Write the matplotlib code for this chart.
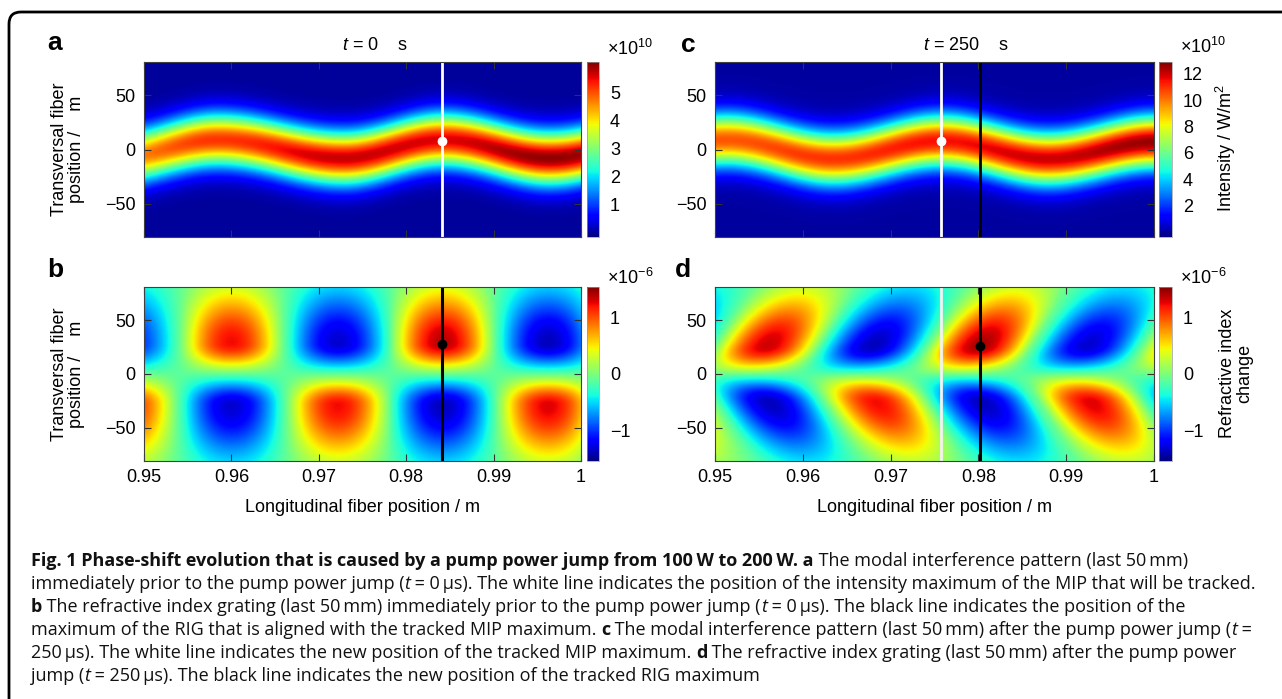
import numpy as np
import matplotlib
matplotlib.use('Agg')
import matplotlib.pyplot as plt
from matplotlib.patches import PathPatch
from matplotlib.path import Path
from matplotlib.transforms import IdentityTransform

plt.rcParams['font.family'] = ['Liberation Sans', 'DejaVu Sans']
plt.rcParams['mathtext.fontset'] = 'custom'
plt.rcParams['mathtext.rm'] = 'Liberation Sans'
plt.rcParams['mathtext.it'] = 'Liberation Sans:italic'

# axis values
x_ticks = [0.95, 0.96, 0.97, 0.98, 0.99, 1.0]
x_tick_labels = ['0.95', '0.96', '0.97', '0.98', '0.99', '1']
y_ticks = [-50, 0, 50]
y_lim = 81

# MIP band: crest positions (m), band offset (um), peak (1e10 W/m^2)
mip_a_crest_x = [0.9462, 0.9585, 0.9728, 0.9843, 0.9965, 1.0088]
mip_a_crest_y = [-8.5, 9, -8, 9, -8, 8]
mip_a_peak = [4.6, 5.2, 5.7, 5.6, 6.0, 5.6]
mip_c_crest_x = [0.9390, 0.9512, 0.9635, 0.9758, 0.9880, 1.0003]
mip_c_crest_y = [-8, 9, -8.5, 8, -8.5, 7]
mip_c_peak = [10.0, 10.5, 11.0, 11.5, 12.0, 12.6]
mip_width = 17

# RIG lobes: position (m), transverse position (um), amplitude (1e-6)
rig_b_x = [0.9478, 0.9600, 0.9722, 0.9842, 0.9963, 1.0085,
           0.9478, 0.9600, 0.9722, 0.9842, 0.9963, 1.0085]
rig_b_y = [29] * 6 + [-29] * 6
rig_b_amp = [-1.0, 1.35, -1.2, 1.5, -1.25, 1.3,
             1.3, -1.2, 1.35, -1.25, 1.4, -1.2]
rig_d_x = [0.9437, 0.9559, 0.9680, 0.9802, 0.9925, 1.0047,
           0.9440, 0.9562, 0.9684, 0.9805, 0.9929, 1.0050]
rig_d_y = [26] * 6 + [-26] * 6
rig_d_amp = [-1.1, 1.45, -1.25, 1.55, -1.2, 1.3,
             1.1, -1.25, 1.35, -1.25, 1.4, -1.1]
rig_period = 0.0243
rig_tilt_b = 0.0
rig_tilt_d = 0.75e-4

# tracked maxima
track_a = (0.9841, 8)
track_b = (0.9841, 28)
track_c = (0.9757, 8)
track_d = (0.9802, 26)

W, H = 1282, 699
fig = plt.figure(figsize=(W / 100, H / 100), dpi=100)
renderer = fig.canvas.get_renderer()


def box(l, t, r, b):
    return [l / W, 1 - b / H, (r - l) / W, (b - t) / H]


def fx(px):
    return px / W


def fy(py):
    return 1 - py / H


xs = np.linspace(0.95, 1.0, 500)
ys = np.linspace(-y_lim, y_lim, 260)
X, Y = np.meshgrid(xs, ys)


def ease(xq, xk, vk):
    xk = np.asarray(xk)
    vk = np.asarray(vk)
    i = np.clip(np.searchsorted(xk, xq) - 1, 0, len(xk) - 2)
    t = np.clip((xq - xk[i]) / (xk[i + 1] - xk[i]), 0, 1)
    return vk[i] + (vk[i + 1] - vk[i]) * (1 - np.cos(np.pi * t)) / 2


def mip(cx, cy, pk):
    yc = ease(X, cx, cy)
    amp = ease(X, cx, pk)
    return amp * np.exp(-(Y - yc) ** 2 / (2 * mip_width ** 2))


def rig(lx, ly, la, tilt):
    Z = np.full(X.shape, -0.12)
    for xi, yi, ai in zip(lx, ly, la):
        dx = X - xi - tilt * (np.abs(Y) - abs(yi))
        px = np.where(np.abs(dx) < rig_period / 4, np.cos(2 * np.pi * dx / rig_period), 0)
        outer = (np.sign(Y) == np.sign(yi)) & (np.abs(Y) > abs(yi))
        s = np.where(outer, 35.0, 16.0)
        Z += ai * px * np.exp(-(Y - yi) ** 2 / (2 * s ** 2))
    return Z


def heat(ax, Z, vmin, vmax, bottom):
    im = ax.imshow(Z, extent=[0.95, 1.0, -y_lim, y_lim], origin='lower', aspect='auto',
                   cmap='jet', vmin=vmin, vmax=vmax, interpolation='bilinear')
    ax.set_xlim(0.95, 1.0)
    ax.set_ylim(-y_lim, y_lim)
    ax.set_xticks(x_ticks)
    ax.set_yticks(y_ticks)
    if bottom:
        ax.set_xticklabels(x_tick_labels)
    else:
        ax.set_xticklabels([])
    ax.tick_params(direction='in', top=True, right=True, length=5, width=0.8,
                   color='0.2', labelsize=13, pad=6)
    for sp in ax.spines.values():
        sp.set_color('0.25')
        sp.set_linewidth(0.8)
    return im


def cbar(im, rect, ticks):
    cax = fig.add_axes(rect)
    cb = fig.colorbar(im, cax=cax, ticks=ticks)
    cb.outline.set_linewidth(0.5)
    cb.outline.set_edgecolor('0.6')
    cax.tick_params(length=0, labelsize=13, pad=8)
    return cb


# border of the figure panel: left edge, rounded top-left corner, top edge (pixels, origin bottom-left)
r = 12
top = H - 12
border = Path([(9, -20), (9, top - r), (9, top), (9 + r, top), (W + 20, top)],
              [Path.MOVETO, Path.LINETO, Path.CURVE3, Path.CURVE3, Path.LINETO])
fig.patches.append(PathPatch(border, transform=IdentityTransform(), fill=False,
                             edgecolor='black', linewidth=2.0))

ax_a = fig.add_axes(box(144, 62, 581, 237))
im_a = heat(ax_a, mip(mip_a_crest_x, mip_a_crest_y, mip_a_peak), -0.15, 6.1, False)
ax_a.axvline(track_a[0], color='white', lw=2)
ax_a.plot(*track_a, 'o', color='white', ms=6)
cbar(im_a, box(587, 62, 599, 237), [1, 2, 3, 4, 5])

ax_b = fig.add_axes(box(144, 287, 581, 461))
im_b = heat(ax_b, rig(rig_b_x, rig_b_y, rig_b_amp, rig_tilt_b), -1.54, 1.54, True)
ax_b.axvline(track_b[0], color='black', lw=2.2)
ax_b.plot(*track_b, 'o', color='black', ms=6)
cbar(im_b, box(587, 287, 599, 461), [-1, 0, 1])

ax_c = fig.add_axes(box(715, 62, 1154, 237))
im_c = heat(ax_c, mip(mip_c_crest_x, mip_c_crest_y, mip_c_peak), -0.4, 12.9, False)
ax_c.axvline(track_c[0], color='white', lw=2)
ax_c.axvline(track_d[0], color='black', lw=2)
ax_c.plot(*track_c, 'o', color='white', ms=6)
cbar(im_c, box(1159, 62, 1172, 237), [2, 4, 6, 8, 10, 12])

ax_d = fig.add_axes(box(715, 287, 1154, 461))
im_d = heat(ax_d, rig(rig_d_x, rig_d_y, rig_d_amp, rig_tilt_d), -1.54, 1.54, True)
ax_d.axvline(track_c[0], color='#f2f2f2', lw=2)
ax_d.axvline(track_d[0], color='black', lw=2.2)
ax_d.plot(*track_d, 'o', color='black', ms=6)
cbar(im_d, box(1159, 287, 1172, 461), [-1, 0, 1])

# panel letters, titles, labels
for letter, px, py in [('a', 55, 43), ('b', 55, 270), ('c', 688, 45), ('d', 683, 270)]:
    fig.text(fx(px), fy(py), letter, fontsize=19, fontweight='bold', ha='center', va='center')

fig.text(fx(342), fy(46), '$t$ = 0    s', fontsize=13, ha='left', va='center')
fig.text(fx(923), fy(46), '$t$ = 250    s', fontsize=13, ha='left', va='center')

for cy in (149.5, 374):
    fig.text(fx(68), fy(cy), 'Transversal fiber\nposition /    m', fontsize=13, rotation=90,
             ha='center', va='center', multialignment='center', linespacing=1.0)
for cx in (362.5, 934.5):
    fig.text(fx(cx), fy(507), 'Longitudinal fiber position / m', fontsize=13, ha='center', va='center')

fig.text(fx(607), fy(49), '×10$^{10}$', fontsize=13, ha='left', va='center')
fig.text(fx(1180), fy(47), '×10$^{10}$', fontsize=13, ha='left', va='center')
fig.text(fx(607), fy(278), '×10$^{-6}$', fontsize=13, ha='left', va='center')
fig.text(fx(1180), fy(278), '×10$^{-6}$', fontsize=13, ha='left', va='center')
fig.text(fx(1226), fy(148), 'Intensity / W/m$^2$', fontsize=13, rotation=90, ha='center', va='center')
fig.text(fx(1236), fy(373), 'Refractive index\nchange', fontsize=13, rotation=90,
         ha='center', va='center', multialignment='center', linespacing=1.0)

# caption
cap_font = 'Open Sans'
R, B, I = ('normal', 'normal'), ('bold', 'normal'), ('normal', 'italic')
ts = '\u2009'
caption = [
    [('Fig. 1 Phase-shift evolution that is caused by a pump power jump from 100' + ts + 'W to 200' + ts + 'W. a', B),
     (' The modal interference pattern (last 50' + ts + 'mm)', R)],
    [('immediately prior to the pump power jump (', R), ('t', I),
     (' = 0' + ts + 'µs). The white line indicates the position of the intensity maximum of the MIP that will be tracked.', R)],
    [('b', B), (' The refractive index grating (last 50' + ts + 'mm) immediately prior to the pump power jump (', R),
     ('t', I), (' = 0' + ts + 'µs). The black line indicates the position of the', R)],
    [('maximum of the RIG that is aligned with the tracked MIP maximum. ', R), ('c', B),
     (' The modal interference pattern (last 50' + ts + 'mm) after the pump power jump (', R), ('t', I), (' =', R)],
    [('250' + ts + 'µs). The white line indicates the new position of the tracked MIP maximum. ', R), ('d', B),
     (' The refractive index grating (last 50' + ts + 'mm) after the pump power', R)],
    [('jump (', R), ('t', I), (' = 250' + ts + 'µs). The black line indicates the new position of the tracked RIG maximum', R)],
]


def seg_width(txt, size, style):
    kw = dict(fontsize=size, fontweight=style[0], fontstyle=style[1], family=cap_font)
    t1 = fig.text(0, 0, '|' + txt + '|', **kw)
    t2 = fig.text(0, 0, '||', **kw)
    w = t1.get_window_extent(renderer).width - t2.get_window_extent(renderer).width
    t1.remove()
    t2.remove()
    return w


base = 10.0
w2 = sum(seg_width(t, base, st) for t, st in caption[1])
cap_size = base * (1263 - 31) / w2

for k, line in enumerate(caption):
    x = 31
    y = 566 + 23 * k
    for txt, st in line:
        fig.text(fx(x), fy(y), txt, fontsize=cap_size, fontweight=st[0], fontstyle=st[1],
                 family=cap_font, ha='left', va='baseline', color='#111111')
        x += seg_width(txt, cap_size, st)

fig.savefig('out.png', dpi=100)
